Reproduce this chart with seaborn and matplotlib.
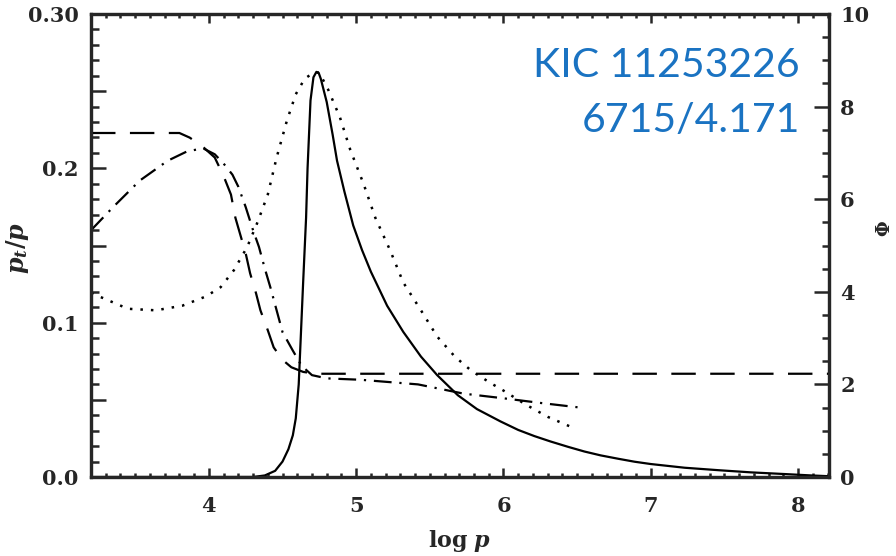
import numpy as np
import pandas as pd
import matplotlib
matplotlib.use("Agg")
import matplotlib.pyplot as plt
from matplotlib.ticker import MultipleLocator, FixedLocator, FixedFormatter
import seaborn as sns

# p_t/p (solid)
log_p_pt = [3.20, 4.30, 4.38, 4.45, 4.50, 4.54, 4.57, 4.59, 4.61, 4.62, 4.64, 4.66, 4.67,
            4.69, 4.71, 4.73, 4.745, 4.76, 4.80, 4.84, 4.87, 4.92, 4.98, 5.04, 5.10, 5.21,
            5.32, 5.44, 5.55, 5.69, 5.82, 5.98, 6.10, 6.21, 6.32, 6.44, 6.55, 6.66, 6.78,
            6.89, 7.00, 7.23, 7.46, 7.68, 7.91, 8.09, 8.21]
pt_ratio = [0.000, 0.000, 0.001, 0.004, 0.010, 0.018, 0.027, 0.038, 0.060, 0.082, 0.126,
            0.168, 0.200, 0.244, 0.259, 0.2625, 0.262, 0.258, 0.243, 0.222, 0.205, 0.185,
            0.163, 0.147, 0.133, 0.111, 0.094, 0.078, 0.066, 0.053, 0.044, 0.036, 0.0305,
            0.0265, 0.023, 0.0195, 0.0165, 0.014, 0.0118, 0.0099, 0.0084, 0.0060, 0.0044,
            0.0030, 0.0019, 0.0010, 0.0005]

# dotted curve (left scale)
log_p_dot = [3.20, 3.28, 3.45, 3.64, 3.82, 3.98, 4.08, 4.17, 4.26, 4.33, 4.40, 4.46, 4.53,
             4.59, 4.65, 4.71, 4.75, 4.81, 4.89, 4.96, 5.05, 5.13, 5.23, 5.32, 5.44, 5.55,
             5.67, 5.78, 5.91, 6.00, 6.15, 6.30, 6.47]
dot_vals = [0.119, 0.116, 0.109, 0.108, 0.111, 0.117, 0.123, 0.134, 0.149, 0.165, 0.183,
            0.207, 0.231, 0.248, 0.258, 0.262, 0.262, 0.251, 0.233, 0.212, 0.190, 0.168,
            0.147, 0.126, 0.108, 0.091, 0.078, 0.069, 0.061, 0.056, 0.047, 0.039, 0.032]

# dashed curve (Phi)
log_p_dash = [3.20, 3.80, 3.87, 3.96, 4.04, 4.10, 4.15, 4.18, 4.21, 4.25, 4.28, 4.32, 4.35,
              4.40, 4.44, 4.50, 4.56, 4.64, 4.72, 8.21]
phi_dash = [7.43, 7.43, 7.33, 7.13, 6.90, 6.50, 6.10, 5.60, 5.27, 4.83, 4.40, 3.97, 3.60,
            3.17, 2.80, 2.53, 2.37, 2.27, 2.23, 2.23]

# dash-dot curve (Phi)
log_p_dd = [3.20, 3.35, 3.53, 3.72, 3.85, 3.96, 4.04, 4.10, 4.16, 4.20, 4.25, 4.30, 4.34,
            4.38, 4.42, 4.46, 4.50, 4.57, 4.63, 4.70, 4.80, 5.03, 5.42, 5.73, 6.00, 6.25, 6.52]
phi_dd = [5.33, 5.83, 6.40, 6.83, 7.03, 7.10, 6.97, 6.77, 6.53, 6.27, 5.83, 5.33, 4.97,
          4.50, 4.07, 3.60, 3.13, 2.73, 2.40, 2.20, 2.13, 2.10, 2.00, 1.80, 1.70, 1.60, 1.50]

left_ticks = [0.0, 0.05, 0.10, 0.15, 0.20, 0.25, 0.30]
left_labels = ['0.0', '', '0.1', '', '0.2', '', '0.30']
right_ticks = [0, 2, 4, 6, 8, 10]
x_ticks = [4, 5, 6, 7, 8]
star_name = 'KIC 11253226'
star_params = '6715/4.171'

sns.set_style("ticks")
plt.rcParams['font.family'] = ['DejaVu Serif']
plt.rcParams['mathtext.fontset'] = 'dejavuserif'

fig = plt.figure(figsize=(8.96, 5.56), dpi=100)
ax = fig.add_axes([0.1016, 0.1421, 0.8236, 0.8327])
ax2 = ax.twinx()

lw = 1.6
sns.lineplot(x=log_p_pt, y=pt_ratio, ax=ax, color='black', lw=lw,
             estimator=None, sort=False)
sns.lineplot(x=log_p_dot, y=dot_vals, ax=ax, color='black', lw=1.8,
             linestyle=(0, (1, 3.2)), estimator=None, sort=False)
sns.lineplot(x=log_p_dash, y=phi_dash, ax=ax2, color='black', lw=lw,
             linestyle=(0, (11, 6.5)), estimator=None, sort=False)
sns.lineplot(x=log_p_dd, y=phi_dd, ax=ax2, color='black', lw=lw,
             linestyle=(0, (8, 3.5, 1, 3.5)), estimator=None, sort=False)

ax.set_xlim(3.2, 8.21)
ax.set_ylim(0, 0.30)
ax2.set_ylim(0, 10)

ax.xaxis.set_major_locator(FixedLocator(x_ticks))
ax.xaxis.set_minor_locator(MultipleLocator(0.1))
ax.yaxis.set_major_locator(FixedLocator(left_ticks))
ax.yaxis.set_major_formatter(FixedFormatter(left_labels))
ax.yaxis.set_minor_locator(MultipleLocator(0.01))
ax2.yaxis.set_major_locator(FixedLocator(right_ticks))
ax2.yaxis.set_minor_locator(MultipleLocator(0.5))

ax.tick_params(axis='x', which='both', direction='in', top=True, bottom=True,
               width=1.8, labelsize=15, pad=14)
ax.tick_params(axis='x', which='major', length=6.2)
ax.tick_params(axis='x', which='minor', length=3)
ax.tick_params(axis='y', which='both', direction='in', left=True, right=False,
               width=1.8, labelsize=15, pad=9)
ax.tick_params(axis='y', which='major', length=10.8)
ax.tick_params(axis='y', which='minor', length=5.8)
ax2.tick_params(axis='y', which='both', direction='in', right=True, left=False,
                width=1.8, labelsize=15, pad=8)
ax2.tick_params(axis='y', which='major', length=10.5)
ax2.tick_params(axis='y', which='minor', length=5.2)

for a in (ax, ax2):
    for s in a.spines.values():
        s.set_linewidth(2.3)
        s.set_visible(True)
    for lab in a.get_xticklabels() + a.get_yticklabels():
        lab.set_fontweight('bold')

ax.set_xlabel(r'$\mathbf{log}\ \boldsymbol{p}$', fontsize=16, labelpad=8)
ax.set_ylabel(r'$\boldsymbol{p}_{\boldsymbol{t}}\mathbf{/}\boldsymbol{p}$', fontsize=17)
ax.yaxis.set_label_coords(-0.099, 0.495)
ax.yaxis.label.set_verticalalignment('center')
ax2.set_ylabel(r'$\mathbf{\Phi}$', fontsize=13)
ax2.yaxis.set_label_coords(1.076, 0.536)
ax2.yaxis.label.set_verticalalignment('center')

ax.text(0.9607, 0.864, star_name, transform=ax.transAxes, ha='right', va='baseline',
        fontsize=29.5, color='#1a73c2', family='Lato')
ax.text(0.9607, 0.745, star_params, transform=ax.transAxes, ha='right', va='baseline',
        fontsize=29.5, color='#1a73c2', family='Lato')

fig.savefig('out.png', dpi=100)
